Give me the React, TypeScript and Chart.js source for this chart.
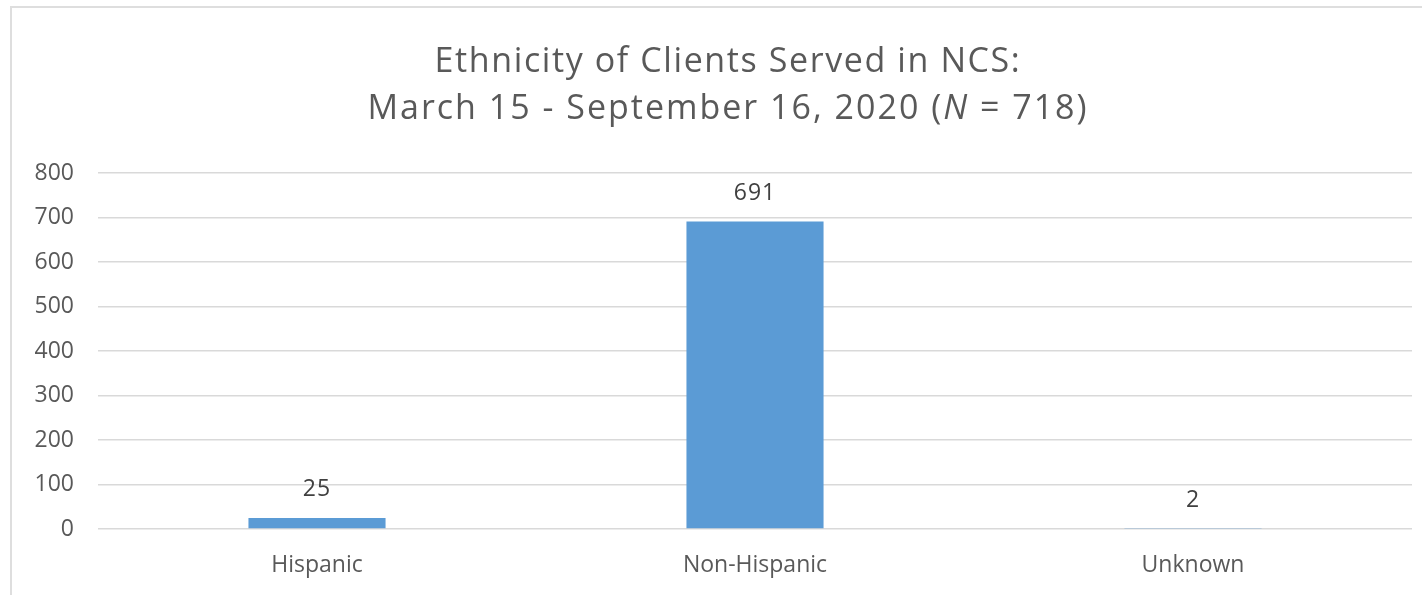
import React, { useEffect, useRef } from "react";
import { Chart, registerables } from "chart.js";

Chart.register(...registerables);

const categories = ["Hispanic", "Non-Hispanic", "Unknown"];
const clientCounts = [25, 691, 2];
const titleLine1 = "Ethnicity of Clients Served in NCS:";
const titleLine2Parts = [
  { text: "March 15 - September 16, 2020 (", italic: false },
  { text: "N", italic: true },
  { text: " = 718)", italic: false },
];
const yTickMax = 800;
const yTickStep = 100;

const FONT = "'Open Sans', sans-serif";
const TEXT_COLOR = "#595959";

const titlePlugin = {
  id: "customTitle",
  afterDraw(chart: any) {
    const ctx = chart.ctx;
    const cx = 728;
    ctx.save();
    ctx.fillStyle = TEXT_COLOR;
    ctx.textBaseline = "middle";
    (ctx as any).letterSpacing = "1.6px";
    ctx.font = `34px ${FONT}`;
    ctx.textAlign = "left";
    const w1 = ctx.measureText(titleLine1).width;
    ctx.fillText(titleLine1, cx - w1 / 2, 62);
    (ctx as any).letterSpacing = "2px";
    const widths = titleLine2Parts.map((p) => {
      ctx.font = `${p.italic ? "italic " : ""}34px ${FONT}`;
      return ctx.measureText(p.text).width;
    });
    const total = widths.reduce((a, b) => a + b, 0);
    let x = cx - total / 2;
    titleLine2Parts.forEach((p, i) => {
      ctx.font = `${p.italic ? "italic " : ""}34px ${FONT}`;
      ctx.fillText(p.text, x, 109);
      x += widths[i];
    });
    ctx.restore();
  },
};

const valueLabelPlugin = {
  id: "valueLabels",
  afterDatasetsDraw(chart: any) {
    const ctx = chart.ctx;
    const meta = chart.getDatasetMeta(0);
    ctx.save();
    ctx.fillStyle = "#404040";
    (ctx as any).letterSpacing = "1px";
    ctx.font = `23px ${FONT}`;
    ctx.textAlign = "center";
    ctx.textBaseline = "middle";
    meta.data.forEach((bar: any, i: number) => {
      ctx.fillText(String(clientCounts[i]), bar.x, bar.y - 28);
    });
    ctx.restore();
  },
};

export default function App() {
  const canvasRef = useRef<HTMLCanvasElement | null>(null);

  useEffect(() => {
    if (!canvasRef.current) return;
    const chart = new Chart(canvasRef.current, {
      type: "bar",
      data: {
        labels: categories,
        datasets: [
          {
            data: clientCounts,
            backgroundColor: "#5B9BD5",
            borderWidth: 0,
            categoryPercentage: 1,
            barPercentage: 0.313,
          },
        ],
      },
      options: {
        animation: false,
        responsive: false,
        maintainAspectRatio: false,
        layout: { padding: { top: 173, right: 10, left: 0, bottom: 0 } },
        plugins: {
          legend: { display: false },
          title: { display: false },
          tooltip: { enabled: false },
        },
        scales: {
          x: {
            grid: { display: false, drawTicks: false },
            border: { display: false },
            ticks: {
              color: TEXT_COLOR,
              font: { family: FONT, size: 23 },
              padding: 23,
            },
            afterFit: (s: any) => {
              s.height = 66;
            },
          },
          y: {
            min: 0,
            max: yTickMax,
            grid: { color: "#d9d9d9", lineWidth: 1.5, drawTicks: false },
            border: { display: false },
            ticks: {
              stepSize: yTickStep,
              color: TEXT_COLOR,
              font: { family: FONT, size: 23 },
              padding: 24,
            },
            afterFit: (s: any) => {
              s.width = 98;
            },
          },
        },
      },
      plugins: [titlePlugin, valueLabelPlugin],
    });
    return () => chart.destroy();
  }, []);

  return (
    <div style={{ position: "absolute", left: 0, top: 0, width: 1422, height: 595, background: "#fff", overflow: "hidden" }}>
      <div
        style={{
          position: "absolute",
          left: 10,
          top: 6,
          width: 1430,
          height: 600,
          borderLeft: "2px solid #dedede",
          borderTop: "2px solid #dedede",
          boxSizing: "border-box",
        }}
      />
      <canvas ref={canvasRef} width={1422} height={595} style={{ position: "absolute", left: 0, top: 0, width: 1422, height: 595 }} />
    </div>
  );
}
